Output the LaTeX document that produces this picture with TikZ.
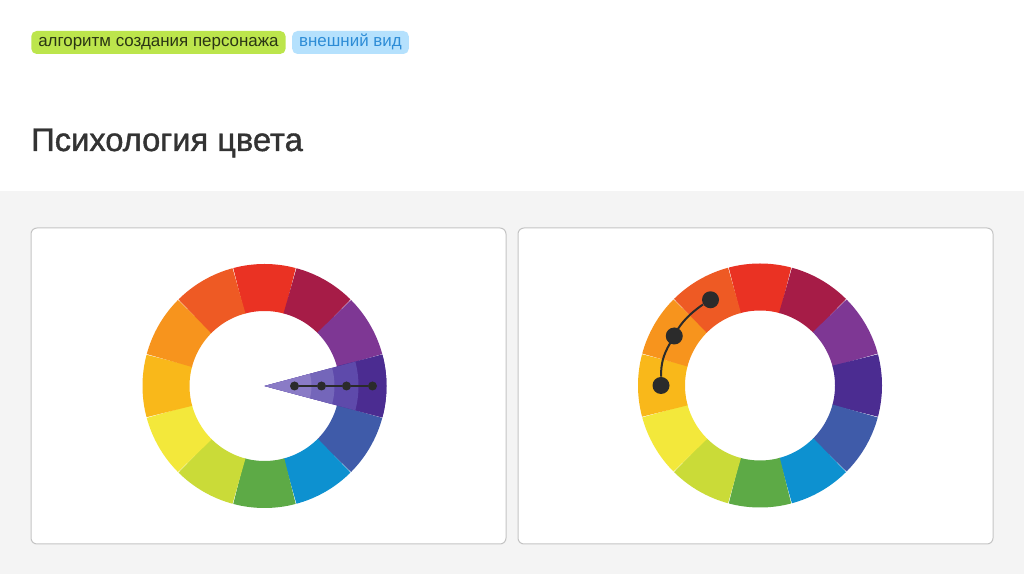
\documentclass[tikz,border=0pt]{standalone}
\usepackage{fontspec}
\setmainfont{Liberation Sans}
\newfontfamily\titlefont[FakeBold=1.2]{Liberation Sans}
\usetikzlibrary{positioning}

\definecolor{pagegray}{HTML}{F4F4F4}
\definecolor{cardline}{HTML}{C4C4C4}
\definecolor{titlegray}{HTML}{333333}
\definecolor{taggreen}{HTML}{BCE54C}
\definecolor{tagtextgreen}{HTML}{2A3514}
\definecolor{tagblue}{HTML}{B5E1FD}
\definecolor{tagtextblue}{HTML}{2D8CD6}
\definecolor{dotgray}{HTML}{2B2B2B}

\definecolor{cRed}{HTML}{EA3223}
\definecolor{cCrimson}{HTML}{A61C47}
\definecolor{cPurple}{HTML}{7E3794}
\definecolor{cIndigo}{HTML}{4B2C91}
\definecolor{cBlue}{HTML}{3F5BA9}
\definecolor{cCyan}{HTML}{0D91D0}
\definecolor{cGreen}{HTML}{5DAA46}
\definecolor{cLime}{HTML}{CADB38}
\definecolor{cYellow}{HTML}{F3E83B}
\definecolor{cAmber}{HTML}{F9B81A}
\definecolor{cOrange}{HTML}{F7941D}
\definecolor{cRedOrange}{HTML}{EE5A24}

\definecolor{wedgeA}{HTML}{8A7BC6}
\definecolor{wedgeB}{HTML}{7466BA}
\definecolor{wedgeC}{HTML}{5E4AAB}

\tikzset{
  ring/.style={line width=35.25pt},
  card/.style={fill=white, draw=cardline, line width=0.75pt, rounded corners=4.5pt},
  tag/.style={rounded corners=4pt, minimum height=17.25pt, inner xsep=5.25pt,
    inner ysep=0pt, text height=1ex, text depth=0pt,
    font=\fontsize{12.7}{14}\selectfont},
  dot/.style={circle, fill=dotgray, inner sep=0pt},
  link/.style={draw=dotgray, line width=1.5pt}
}

\begin{document}
\begin{tikzpicture}[x=0.75pt, y=0.75pt]
  \useasboundingbox (0,0) rectangle (1024,574);
  \fill [white] (0,0) rectangle (1024,574);
  \fill [pagegray] (0,0) rectangle (1024,383);

  % tags and title
  \node[tag, fill=taggreen, text=tagtextgreen, anchor=west] (tagalgo) at (31,531.5)
    {алгоритм создания персонажа};
  \node[tag, fill=tagblue, text=tagtextblue, right=4.5pt of tagalgo] (taglook)
    {внешний вид};
  \node[anchor=base west, inner sep=0pt, text=titlegray,
    font=\titlefont\fontsize{24.5}{28}\selectfont] (title) at (31,423) {Психология цвета};

  % cards
  \draw[card] (31,30) rectangle (506,346);
  \draw[card] (518,30) rectangle (993,346);

  % left wheel
  \begin{scope}[shift={(264.5,188)}]
    \draw[ring, cRed] (75:98.5) arc[start angle=75, end angle=105, radius=98.5];
    \draw[ring, cCrimson] (45:98.5) arc[start angle=45, end angle=75, radius=98.5];
    \draw[ring, cPurple] (15:98.5) arc[start angle=15, end angle=45, radius=98.5];
    \draw[ring, cIndigo] (-15:98.5) arc[start angle=-15, end angle=15, radius=98.5];
    \draw[ring, cBlue] (-45:98.5) arc[start angle=-45, end angle=-15, radius=98.5];
    \draw[ring, cCyan] (-75:98.5) arc[start angle=-75, end angle=-45, radius=98.5];
    \draw[ring, cGreen] (-105:98.5) arc[start angle=-105, end angle=-75, radius=98.5];
    \draw[ring, cLime] (-135:98.5) arc[start angle=-135, end angle=-105, radius=98.5];
    \draw[ring, cYellow] (-165:98.5) arc[start angle=-165, end angle=-135, radius=98.5];
    \draw[ring, cAmber] (165:98.5) arc[start angle=165, end angle=195, radius=98.5];
    \draw[ring, cOrange] (135:98.5) arc[start angle=135, end angle=165, radius=98.5];
    \draw[ring, cRedOrange] (105:98.5) arc[start angle=105, end angle=135, radius=98.5];

    \fill[cIndigo] (0,0) -- (-15:122) arc[start angle=-15, end angle=15, radius=122] -- cycle;
    \fill[wedgeC] (0,0) -- (-15:94) arc[start angle=-15, end angle=15, radius=94] -- cycle;
    \fill[wedgeB] (0,0) -- (-15:70) arc[start angle=-15, end angle=15, radius=70] -- cycle;
    \fill[wedgeA] (0,0) -- (-15:47) arc[start angle=-15, end angle=15, radius=47] -- cycle;

    \node[dot, minimum size=6.75pt] (a1) at (0:30) {};
    \node[dot, minimum size=6.75pt] (a2) at (0:57) {};
    \node[dot, minimum size=6.75pt] (a3) at (0:82) {};
    \node[dot, minimum size=6.75pt] (a4) at (0:108) {};
    \draw[link] (a1) -- (a2) -- (a3) -- (a4);
  \end{scope}

  % right wheel
  \begin{scope}[shift={(760,188.5)}]
    \draw[ring, cRed] (75:98.5) arc[start angle=75, end angle=105, radius=98.5];
    \draw[ring, cCrimson] (45:98.5) arc[start angle=45, end angle=75, radius=98.5];
    \draw[ring, cPurple] (15:98.5) arc[start angle=15, end angle=45, radius=98.5];
    \draw[ring, cIndigo] (-15:98.5) arc[start angle=-15, end angle=15, radius=98.5];
    \draw[ring, cBlue] (-45:98.5) arc[start angle=-45, end angle=-15, radius=98.5];
    \draw[ring, cCyan] (-75:98.5) arc[start angle=-75, end angle=-45, radius=98.5];
    \draw[ring, cGreen] (-105:98.5) arc[start angle=-105, end angle=-75, radius=98.5];
    \draw[ring, cLime] (-135:98.5) arc[start angle=-135, end angle=-105, radius=98.5];
    \draw[ring, cYellow] (-165:98.5) arc[start angle=-165, end angle=-135, radius=98.5];
    \draw[ring, cAmber] (165:98.5) arc[start angle=165, end angle=195, radius=98.5];
    \draw[ring, cOrange] (135:98.5) arc[start angle=135, end angle=165, radius=98.5];
    \draw[ring, cRedOrange] (105:98.5) arc[start angle=105, end angle=135, radius=98.5];

    \node[dot, minimum size=12.75pt] (b1) at (120:99) {};
    \node[dot, minimum size=12.75pt] (b2) at (150:99) {};
    \node[dot, minimum size=12.75pt] (b3) at (180:99) {};
    \draw[link] (b3) to[bend left=15] (b2) to[bend left=15] (b1);
  \end{scope}
\end{tikzpicture}
\end{document}
